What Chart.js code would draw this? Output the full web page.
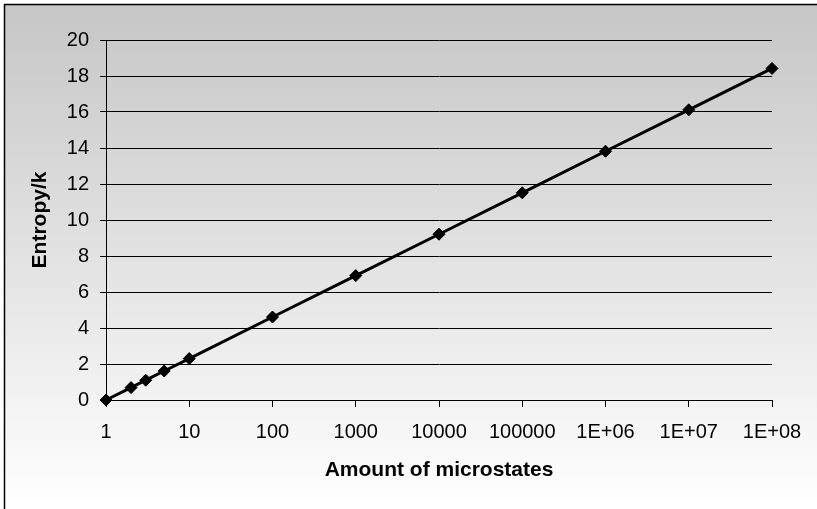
<!DOCTYPE html>
<html>
<head>
<meta charset="utf-8">
<script src="https://cdn.jsdelivr.net/npm/chart.js@4/dist/chart.umd.min.js"></script>
<style>
  html, body { margin: 0; padding: 0; background: #ffffff; }
  #wrap { width: 817px; height: 509px; }
</style>
</head>
<body>
<div id="wrap"><canvas id="c" width="817" height="509"></canvas></div>
<script>
// Number of microstates W and the entropy S/k = ln W for each
const microstates = [1, 2, 3, 5, 10, 100, 1000, 10000, 100000, 1e6, 1e7, 1e8];
const entropyOverK = [0, 0.69, 1.10, 1.61, 2.30, 4.61, 6.91, 9.21, 11.51, 13.82, 16.12, 18.42];

// Decade ticks on the horizontal axis and their printed labels
const xTickValues = [1, 10, 100, 1000, 10000, 100000, 1e6, 1e7, 1e8];
const xTickLabels = ['1', '10', '100', '1000', '10000', '100000', '1E+06', '1E+07', '1E+08'];

const FONT = 'Liberation Sans, Arial, Helvetica, sans-serif';

// Grey-to-white backdrop with a frame line on the left and top
const backdrop = {
  id: 'backdrop',
  beforeDraw(chart) {
    const { ctx, width, height } = chart;
    ctx.save();
    ctx.fillStyle = '#ffffff';
    ctx.fillRect(0, 0, width, height);
    const g = ctx.createLinearGradient(0, 5, 0, height);
    g.addColorStop(0, '#c6c6c6');
    g.addColorStop(1, '#ffffff');
    ctx.fillStyle = g;
    ctx.fillRect(5, 5, width - 5, height - 5);
    ctx.strokeStyle = '#000000';
    ctx.lineWidth = 1.5;
    ctx.beginPath();
    ctx.moveTo(4.5, height + 5);
    ctx.lineTo(4.5, 4.5);
    ctx.lineTo(width + 5, 4.5);
    ctx.stroke();
    ctx.restore();
  }
};

new Chart(document.getElementById('c'), {
  type: 'line',
  data: {
    datasets: [{
      data: microstates.map((w, i) => ({ x: w, y: entropyOverK[i] })),
      borderColor: '#000000',
      backgroundColor: '#000000',
      borderWidth: 3,
      pointStyle: 'rectRot',
      pointRadius: 6,
      pointHoverRadius: 6,
      pointBorderWidth: 1,
      tension: 0,
      fill: false,
      clip: false
    }]
  },
  options: {
    responsive: false,
    animation: false,
    events: [],
    layout: { padding: { left: 0, right: 45, top: 40, bottom: 0 } },
    plugins: { legend: { display: false }, tooltip: { enabled: false } },
    scales: {
      x: {
        type: 'logarithmic',
        min: 1,
        max: 1e8,
        afterBuildTicks(scale) {
          scale.ticks = xTickValues.map(v => ({ value: v }));
        },
        afterFit(scale) { scale.height = 109; },
        ticks: {
          color: '#000000',
          font: { family: FONT, size: 20 },
          padding: 13,
          maxRotation: 0,
          autoSkip: false,
          callback(value) {
            const i = xTickValues.indexOf(value);
            return i >= 0 ? xTickLabels[i] : '';
          }
        },
        grid: { drawOnChartArea: false, drawTicks: true, tickLength: 7, color: '#000000', lineWidth: 1 },
        border: { display: true, color: '#000000', width: 1 },
        title: {
          display: true,
          text: 'Amount of microstates',
          color: '#000000',
          font: { family: FONT, size: 21, weight: 'bold' },
          padding: { top: 0, bottom: 26 }
        }
      },
      y: {
        type: 'linear',
        min: 0,
        max: 20,
        afterFit(scale) { scale.width = 106; },
        ticks: {
          stepSize: 2,
          color: '#000000',
          font: { family: FONT, size: 20 },
          padding: 11
        },
        grid: { drawOnChartArea: true, drawTicks: true, tickLength: 6, color: '#000000', lineWidth: 1 },
        border: { display: true, color: '#000000', width: 1 },
        title: {
          display: true,
          text: 'Entropy/k',
          color: '#000000',
          font: { family: FONT, size: 21, weight: 'bold' },
          padding: { top: 28, bottom: 0 }
        }
      }
    }
  },
  plugins: [backdrop]
});
</script>
</body>
</html>
